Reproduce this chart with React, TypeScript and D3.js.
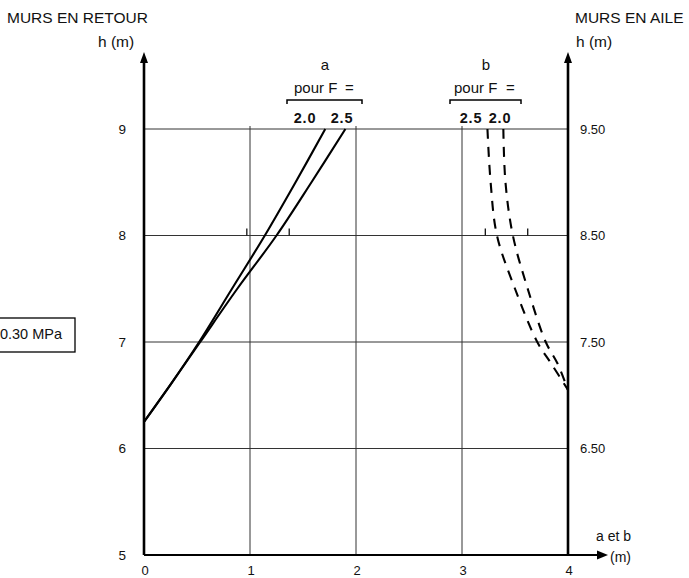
import React from "react";
import * as d3 from "d3";

const W = 689;
const H = 578;

// axes ticks
const xTicks = [0, 1, 2, 3, 4];
const hRetourTicks = [5, 6, 7, 8, 9];
const hAileTicks = [6.5, 7.5, 8.5, 9.5];
const hAileLabels = ["6.50", "7.50", "8.50", "9.50"];
const gridH = [6, 7, 8, 9];
const gridX = [1, 2, 3];

// curves a (murs en retour, solid)
const aH = [6.25, 6.6, 7.0, 7.5, 8.0, 8.5, 9.0];
const aF20 = [0, 0.25, 0.52, 0.83, 1.14, 1.43, 1.71];
const aF25 = [0, 0.25, 0.53, 0.88, 1.25, 1.58, 1.9];

// curves b (murs en aile, dashed) – h in "aile" units
const bH = [9.5, 9.0, 8.5, 8.0, 7.5, 7.3, 7.05];
const bF25 = [3.24, 3.27, 3.33, 3.5, 3.71, 3.84, 4.0];
const bF20 = [3.39, 3.41, 3.48, 3.62, 3.79, 3.9, 4.0];

// range marks on h = 8
const marksA = [0.97, 1.37];
const marksB = [3.22, 3.62];

const FONT = "'Liberation Sans', Arial, Helvetica, sans-serif";

export default function App() {
  const x = d3.scaleLinear().domain([0, 4]).range([144, 568]);
  const y = d3.scaleLinear().domain([5, 9]).range([555, 129]);
  const yA = d3.scaleLinear().domain([5.5, 9.5]).range([555, 129]);

  const lineA = (xs: number[]) =>
    d3
      .line<number>()
      .x((_, i) => x(xs[i]))
      .y((h) => y(h))
      .curve(d3.curveCatmullRom)(aH) as string;
  const lineB = (xs: number[]) =>
    d3
      .line<number>()
      .x((_, i) => x(xs[i]))
      .y((h) => yA(h))
      .curve(d3.curveCatmullRom)(bH) as string;

  const x0 = x(0);
  const x4 = x(4);
  const yBot = y(5);
  const yTop = 52;

  const bracket = (xa: number, xb: number, yy: number) =>
    `M${xa},${yy + 4}L${xa},${yy}L${xb},${yy}L${xb},${yy + 4}`;

  return (
    <svg width={W} height={H} style={{ position: "absolute", left: 0, top: 0, background: "#fff" }}>
      <g fontFamily={FONT} fill="#111">
        {/* grid */}
        {gridH.map((h) => (
          <line key={"gh" + h} x1={x0} x2={x4} y1={y(h)} y2={y(h)} stroke="#333" strokeWidth={1} />
        ))}
        {gridX.map((v) => (
          <line key={"gx" + v} x1={x(v)} x2={x(v)} y1={yBot} y2={y(9) - 3} stroke="#333" strokeWidth={1} />
        ))}
        {/* range marks on h=8 */}
        {[...marksA, ...marksB].map((v, i) => (
          <line key={"m" + i} x1={x(v)} x2={x(v)} y1={y(8)} y2={y(8) - 7} stroke="#111" strokeWidth={1.3} />
        ))}

        {/* axes */}
        <line x1={x0} x2={x0} y1={yBot} y2={yTop + 8} stroke="#000" strokeWidth={2.6} />
        <path d={`M${x0},${yTop}L${x0 - 4},${yTop + 11}L${x0 + 4},${yTop + 11}Z`} fill="#000" />
        <line x1={x4} x2={x4} y1={yBot} y2={yTop + 8} stroke="#000" strokeWidth={2.6} />
        <path d={`M${x4},${yTop}L${x4 - 4},${yTop + 11}L${x4 + 4},${yTop + 11}Z`} fill="#000" />
        <line x1={x0} x2={600} y1={yBot} y2={yBot} stroke="#000" strokeWidth={2} />
        <path d={`M608,${yBot}L597,${yBot - 4.5}L597,${yBot + 4.5}Z`} fill="#000" />

        {/* curves a */}
        <path d={lineA(aF20)} fill="none" stroke="#000" strokeWidth={2.1} />
        <path d={lineA(aF25)} fill="none" stroke="#000" strokeWidth={2.1} />
        {/* curves b */}
        <path d={lineB(bF25)} fill="none" stroke="#000" strokeWidth={2.1} strokeDasharray="10,8" />
        <path d={lineB(bF20)} fill="none" stroke="#000" strokeWidth={2.1} strokeDasharray="10,8" />

        {/* left tick labels */}
        {hRetourTicks.map((h) => (
          <text key={"lt" + h} x={126} y={y(h)} dy="0.36em" fontSize={13.5} textAnchor="end">
            {h}
          </text>
        ))}
        {/* right tick labels */}
        {hAileTicks.map((h, i) => (
          <text key={"rt" + h} x={580} y={yA(h)} dy="0.36em" fontSize={13}>
            {hAileLabels[i]}
          </text>
        ))}
        {/* bottom tick labels */}
        {xTicks.map((v) => (
          <text key={"bt" + v} x={x(v) + 1} y={575} fontSize={13} textAnchor="middle">
            {v}
          </text>
        ))}

        {/* titles */}
        <text x={7} y={23} fontSize={15.5}>MURS EN RETOUR</text>
        <text x={98} y={47} fontSize={15.5}>h (m)</text>
        <text x={575} y={23} fontSize={15.5}>MURS EN AILE</text>
        <text x={576} y={47} fontSize={15.5}>h (m)</text>
        <text x={596} y={541} fontSize={14}>a et b</text>
        <text x={610} y={562} fontSize={14}>(m)</text>

        {/* bracket a */}
        <text x={325} y={70} fontSize={15} textAnchor="middle">a</text>
        <text x={294} y={93} fontSize={15}>pour F</text>
        <text x={345} y={93} fontSize={15}>=</text>
        <path d={bracket(287, 362, 100)} fill="none" stroke="#000" strokeWidth={1.5} />
        <text x={305} y={123} fontSize={14.5} textAnchor="middle" fontWeight="bold" letterSpacing={0.8}>2.0</text>
        <text x={342} y={123} fontSize={14.5} textAnchor="middle" fontWeight="bold" letterSpacing={0.8}>2.5</text>

        {/* bracket b */}
        <text x={486} y={70} fontSize={15} textAnchor="middle">b</text>
        <text x={454} y={93} fontSize={15}>pour F</text>
        <text x={506} y={93} fontSize={15}>=</text>
        <path d={bracket(450, 521, 100)} fill="none" stroke="#000" strokeWidth={1.5} />
        <text x={471} y={123} fontSize={14.5} textAnchor="middle" fontWeight="bold" letterSpacing={0.8}>2.5</text>
        <text x={500} y={123} fontSize={14.5} textAnchor="middle" fontWeight="bold" letterSpacing={0.8}>2.0</text>

        {/* boxed label */}
        <rect x={-2} y={318} width={77} height={34} fill="#fff" stroke="#000" strokeWidth={1.3} />
        <text x={62} y={339} fontSize={14.5} textAnchor="end">σ = 0.30 MPa</text>
      </g>
    </svg>
  );
}
